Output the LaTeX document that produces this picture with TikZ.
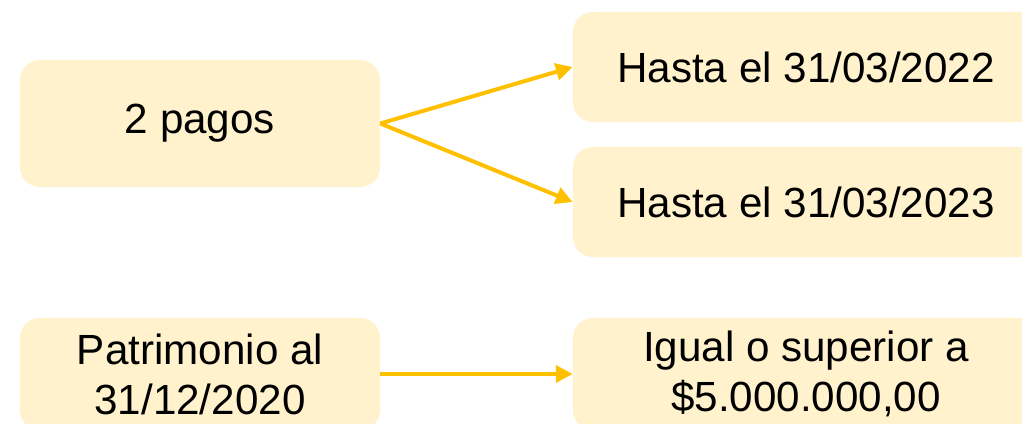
\documentclass[tikz,border=0pt]{standalone}
\usepackage{fontspec}
\setmainfont{Liberation Sans}
\usepackage{tikz}
\usetikzlibrary{arrows.meta}
\usepackage{xcolor}
\definecolor{xfill}{HTML}{FFF2CC}
\definecolor{xgold}{HTML}{FFC000}
\tikzset{
	box/.style={fill=xfill, rounded corners=0.5cm, inner sep=0pt, align=center, font=\fontsize{30pt}{35.6pt}\selectfont},
	arrow/.style={draw=xgold, line width=0.1cm, -{Triangle[length=0.42cm, width=0.42cm]}},
}

\begin{document}
\begin{tikzpicture}[x=0.025cm, y=-0.025cm]
		\useasboundingbox (0,0) rectangle (1022,423);
		\clip (0,0) rectangle (1022,423);
% Payments
		\node[box, minimum width=9cm, minimum height=3.175cm] (pagos) at (200,123.5) {2 pagos};
		\node[box, minimum width=11.65cm, minimum height=2.75cm] (plazo1) at (806,67) {Hasta el 31/03/2022};
		\node[box, minimum width=11.65cm, minimum height=2.75cm] (plazo2) at (806,202) {Hasta el 31/03/2023};

		\draw[arrow] (pagos.east) -- (plazo1.west);
		\draw[arrow] (pagos.east) -- (plazo2.west);

% Equity
		\node[box, minimum width=9cm, minimum height=2.8cm] (patrimonio) at (200,374) {Patrimonio al\\31/12/2020};
		\node[box, minimum width=11.65cm, minimum height=2.8cm] (monto) at (806,374) {Igual o superior a\\\$5.000.000,00};

		\draw[arrow] (patrimonio.east) -- (monto.west);
	\end{tikzpicture}
\end{document}
